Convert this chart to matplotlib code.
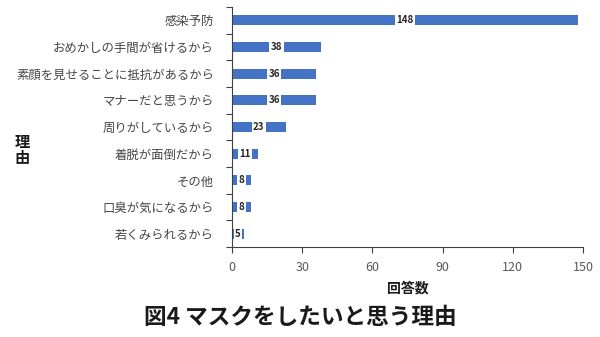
import matplotlib
matplotlib.use("Agg")
import matplotlib.pyplot as plt
import numpy as np

plt.rcParams['font.family'] = ['Noto Sans CJK JP', 'DejaVu Sans']

reasons = ["感染予防", "おめかしの手間が省けるから", "素顔を見せることに抵抗があるから",
           "マナーだと思うから", "周りがしているから", "着脱が面倒だから",
           "その他", "口臭が気になるから", "若くみられるから"]
counts = [148, 38, 36, 36, 23, 11, 8, 8, 5]
xticks = [0, 30, 60, 90, 120, 150]

fig = plt.figure(figsize=(6.0, 3.37), dpi=100)
ax = fig.add_axes([0.3867, 0.267, 0.585, 0.712])

y = np.arange(len(reasons))
ax.barh(y, counts, height=0.38, color="#4472C4")
ax.set_ylim(len(reasons) - 0.5, -0.5)
ax.set_xlim(0, 150)

for yi, c in zip(y, counts):
    ax.text(c / 2, yi, str(c), ha="center", va="center", fontsize=7,
            fontweight="bold", color="#262626",
            bbox=dict(boxstyle="square,pad=0.15", fc="white", ec="none"))

ax.set_yticks(y)
ax.set_yticklabels(reasons, fontsize=8.9, color="#454545")
ax.set_yticks(np.arange(-0.5, len(reasons), 1), minor=True)
ax.tick_params(axis="y", which="major", length=0, pad=13)
ax.tick_params(axis="y", which="minor", length=4, color="#404040", width=0.8)

ax.set_xticks(xticks)
ax.set_xticklabels([str(v) for v in xticks], fontsize=9, color="#595959")
ax.tick_params(axis="x", length=4, color="#404040", width=0.8, pad=6)

for s in ["top", "right"]:
    ax.spines[s].set_visible(False)
for s in ["left", "bottom"]:
    ax.spines[s].set_color("#404040")
    ax.spines[s].set_linewidth(0.8)

fig.text(0.68, 0.145, "回答数", ha="center", va="center", fontsize=10,
         fontweight="bold", color="#1a1a1a")
fig.text(0.037, 0.555, "理\n由", ha="center", va="center", fontsize=11,
         fontweight="bold", color="#1a1a1a", linespacing=1.0)
fig.text(0.5, 0.058, "図4 マスクをしたいと思う理由", ha="center", va="center",
         fontsize=16.3, fontweight="bold", color="#1a1a1a")

fig.savefig("out.png", dpi=100, facecolor="white")
